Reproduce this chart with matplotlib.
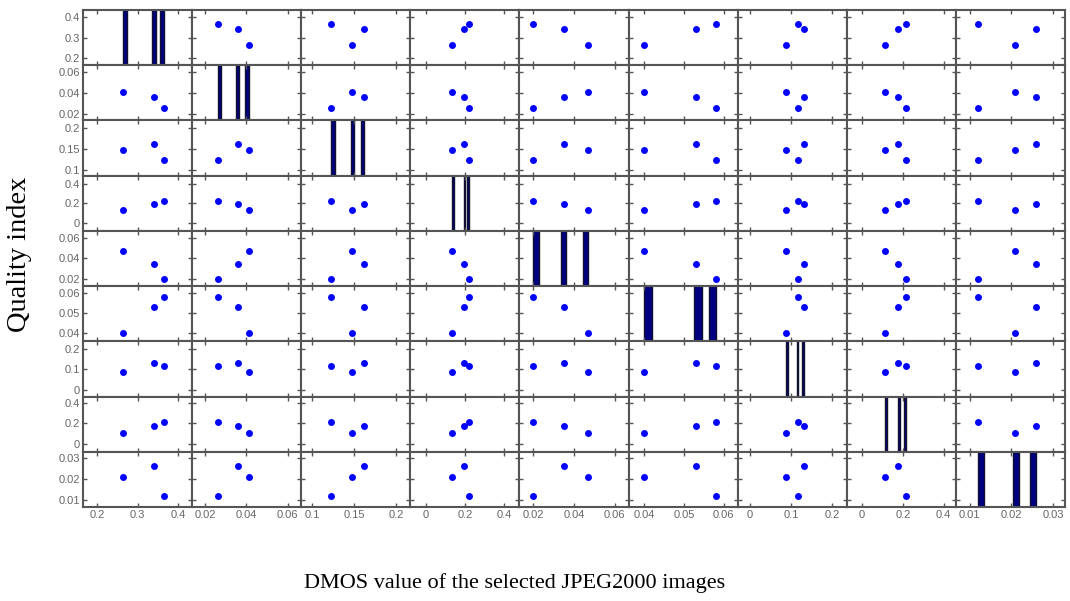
import matplotlib.pyplot as plt
import numpy as np

# three selected JPEG2000 images, nine quality indices each
img_a = [0.265, 0.041, 0.147, 0.135, 0.047, 0.040, 0.088, 0.110, 0.021]
img_b = [0.340, 0.036, 0.162, 0.195, 0.035, 0.053, 0.130, 0.178, 0.026]
img_c = [0.365, 0.026, 0.123, 0.220, 0.020, 0.058, 0.117, 0.217, 0.012]

ticks = [
    [0.2, 0.3, 0.4],
    [0.02, 0.04, 0.06],
    [0.1, 0.15, 0.2],
    [0, 0.2, 0.4],
    [0.02, 0.04, 0.06],
    [0.04, 0.05, 0.06],
    [0, 0.1, 0.2],
    [0, 0.2, 0.4],
    [0.01, 0.02, 0.03],
]
tick_labels = [
    ['0.2', '0.3', '0.4'],
    ['0.02', '0.04', '0.06'],
    ['0.1', '0.15', '0.2'],
    ['0', '0.2', '0.4'],
    ['0.02', '0.04', '0.06'],
    ['0.04', '0.05', '0.06'],
    ['0', '0.1', '0.2'],
    ['0', '0.2', '0.4'],
    ['0.01', '0.02', '0.03'],
]
limits = [
    (0.165, 0.435),
    (0.0137, 0.0665),
    (0.087, 0.217),
    (-0.08, 0.48),
    (0.0132, 0.0668),
    (0.036, 0.0635),
    (-0.03, 0.235),
    (-0.075, 0.46),
    (0.0067, 0.0329),
]

data = np.array([img_a, img_b, img_c])
n = data.shape[1]

W, H = 1070, 601
fig = plt.figure(figsize=(W / 100, H / 100), dpi=100)

left, right, top, bottom = 83, 1065, 10, 507
cw = (right - left) / n
rh = (bottom - top) / n
frame = '#555555'
label_col = '#666666'

for i in range(n):        # rows -> y variable
    for j in range(n):    # cols -> x variable
        x0 = (left + j * cw) / W
        y0 = 1 - (top + (i + 1) * rh) / H
        ax = fig.add_axes([x0, y0, cw / W, rh / H])
        if i == j:
            lo, hi = data[:, j].min(), data[:, j].max()
            counts, _, _ = ax.hist(data[:, j], bins=10, range=(lo, hi),
                                   color='#000080', edgecolor='#101030',
                                   linewidth=1.0)
            ax.set_ylim(0, counts.max())
            # diagonal shares the tick positions of the row variable
            lo_i, hi_i = limits[i]
            c = counts.max()
            ax.set_yticks([(t - lo_i) / (hi_i - lo_i) * c for t in ticks[i]])
        else:
            ax.plot(data[:, j], data[:, i], 'o', color='blue',
                    markersize=5, markeredgewidth=0)
            ax.set_ylim(*limits[i])
            ax.set_yticks(ticks[i])
        ax.set_xlim(*limits[j])
        ax.set_xticks(ticks[j])
        ax.tick_params(direction='in', length=3, width=1, colors=frame,
                       top=True, right=True, labelsize=8,
                       labelcolor=label_col, pad=2)
        for s in ax.spines.values():
            s.set_color(frame)
            s.set_linewidth(1.5)
        if j == 0:
            ax.set_yticklabels(tick_labels[i], family='Liberation Sans')
        else:
            ax.set_yticklabels([])
        if i == n - 1:
            ax.set_xticklabels(tick_labels[j], family='Liberation Sans')
        else:
            ax.set_xticklabels([])

fig.text(20 / W, 1 - 254 / H, 'Quality index', rotation=90,
         family='Liberation Serif', fontsize=20.5, ha='center', va='center')
fig.text(515 / W, 1 - 583 / H, 'DMOS value of the selected JPEG2000 images',
         family='Liberation Serif', fontsize=16, ha='center', va='center')

fig.savefig('out.png', dpi=100)
